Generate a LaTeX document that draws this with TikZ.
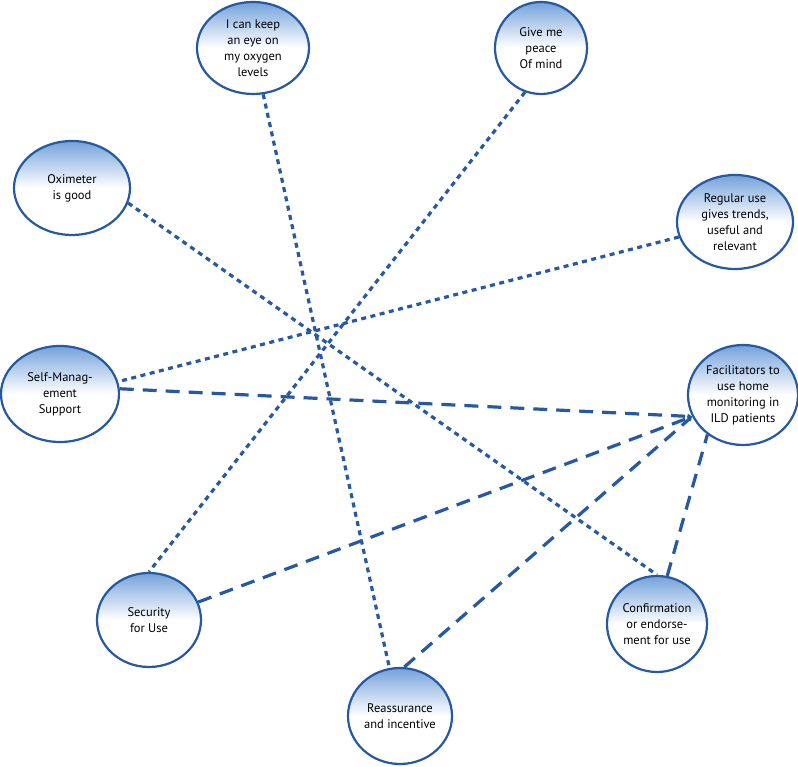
\documentclass[tikz,border=0pt]{standalone}
\usepackage{fontspec}
\setmainfont{PT Sans}
\usepackage{tikz}
\usetikzlibrary{shapes,arrows.meta,positioning}
\definecolor{ringblue}{HTML}{2759A2}
\definecolor{fadeblue}{HTML}{74A2DA}

\begin{document}
\begin{tikzpicture}[x=1pt,y=1pt,
    bubble/.style={ellipse, draw=ringblue, line width=2.2pt,
        top color=fadeblue, bottom color=white, middle color=white,
        align=center, inner sep=-14pt, font=\fontsize{12.5}{16}\selectfont},
    dotlink/.style={draw=ringblue, line width=3.2pt, dash pattern=on 5pt off 4.5pt},
    dashlink/.style={draw=ringblue, line width=3.2pt, dash pattern=on 14pt off 9pt}]
    % Fix the canvas size
    \useasboundingbox (0,0) rectangle (798,767);
    % Outer bubbles
    \node[bubble, minimum width=112, minimum height=92] (oxygen) at (253,719) {I can keep\\an eye on\\my oxygen\\levels};
    \node[bubble, minimum width=92, minimum height=92] (peace) at (541,719) {Give me\\peace\\Of mind};
    \node[bubble, minimum width=116, minimum height=94] (oximeter) at (72,579) {Oximeter\\is good};
    \node[bubble, minimum width=116, minimum height=94] (regular) at (735,545) {Regular use\\gives trends,\\useful and\\relevant};
    \node[bubble, minimum width=118, minimum height=96] (selfman) at (60,373) {Self-Manag-\\ement\\Support};
    \node[bubble, minimum width=110, minimum height=100] (facil) at (743,372) {Facilitators to\\use home\\monitoring in\\ILD patients};
    \node[bubble, minimum width=104, minimum height=94] (security) at (149,147) {Security\\for Use};
    \node[bubble, minimum width=100, minimum height=96] (confirm) at (657,143) {Confirmation\\or endorse-\\ment for use};
    \node[bubble, minimum width=104, minimum height=96] (reassure) at (400,51) {Reassurance\\and incentive};
    % Dotted links between opposite bubbles
    \draw[dotlink] (oxygen) -- (reassure);
    \draw[dotlink] (peace.250) -- (security.north);
    \draw[dotlink] (oximeter.-15) -- (confirm.north);
    \draw[dotlink] (regular.195) -- (selfman.12);
    % Dashed links into the facilitators bubble
    \foreach \src/\ang in {selfman/5, security/20, reassure/85} {
        \draw[dashlink, -{Triangle[length=4.5pt,width=5pt]}] (\src.\ang) -- (facil.203);
    }
    \draw[dashlink] (confirm.78) -- (facil.228);
\end{tikzpicture}
\end{document}
